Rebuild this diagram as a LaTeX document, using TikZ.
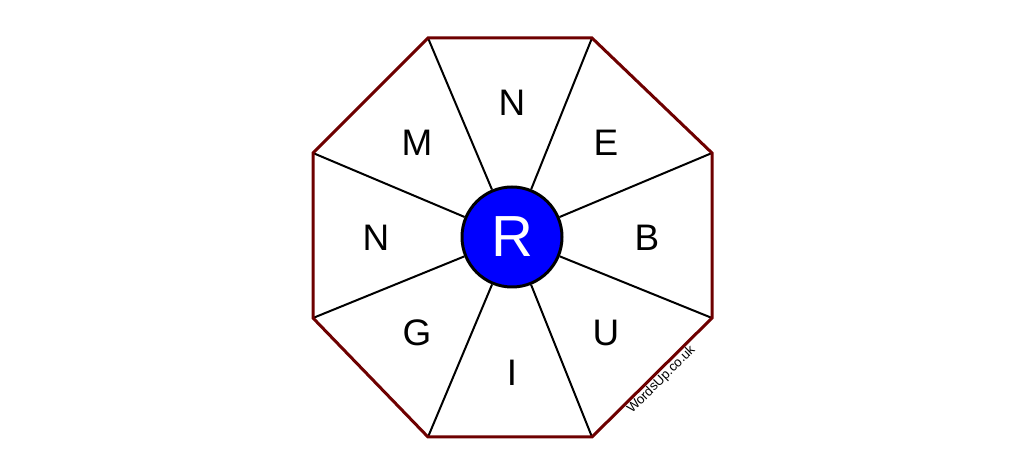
\documentclass[tikz,border=0pt]{standalone}
\usepackage{fontspec}
\setmainfont{Liberation Sans}
\usetikzlibrary{calc}
\definecolor{rim}{RGB}{110,0,0}
\definecolor{hubblue}{RGB}{0,0,255}
\tikzset{
  letter/.style={font=\fontsize{21}{21}\selectfont},
  spoke/.style={line width=0.4mm, black},
}
\begin{document}
\begin{tikzpicture}[x=0.2mm, y=-0.2mm]
      \useasboundingbox (0,0) rectangle (1024,476);

      \coordinate (v1) at (428, 38);
      \coordinate (v2) at (592, 38);
      \coordinate (v3) at (712,153);
      \coordinate (v4) at (712,318);
      \coordinate (v5) at (592,437);
      \coordinate (v6) at (428,437);
      \coordinate (v7) at (313,318);
      \coordinate (v8) at (313,153);

      \node[circle, draw=black, line width=0.6mm, fill=hubblue, minimum size=20mm, inner sep=0pt,
            text=white, font=\fontsize{33}{33}\selectfont](hub) at (512,237){R};

      \draw[spoke] (v1) -- (hub);
      \draw[spoke] (v2) -- (hub);
      \draw[spoke] (v3) -- (hub);
      \draw[spoke] (v4) -- (hub);
      \draw[spoke] (v5) -- (hub);
      \draw[spoke] (v6) -- (hub);
      \draw[spoke] (v7) -- (hub);
      \draw[spoke] (v8) -- (hub);

      \draw[rim, line width=0.6mm, line join=miter] (v1) -- (v2) -- (v3) -- (v4) -- (v5) -- (v6) -- (v7) -- (v8) -- cycle;

      \node[letter](top) at (512,103){N};
      \node[letter](topright) at (606,143){E};
      \node[letter](right) at (647,238){B};
      \node[letter](botright) at (606,333){U};
      \node[letter](bottom) at (512,373){I};
      \node[letter](botleft) at (417,333){G};
      \node[letter](left) at (376,238){N};
      \node[letter](topleft) at (417,143){M};

      \node[rotate=45, anchor=north, inner sep=1pt, font=\fontsize{7.5}{7.5}\selectfont](mark)
        at ($(v4)!0.47!(v5)$) {WordsUp.co.uk};
    \end{tikzpicture}
\end{document}
